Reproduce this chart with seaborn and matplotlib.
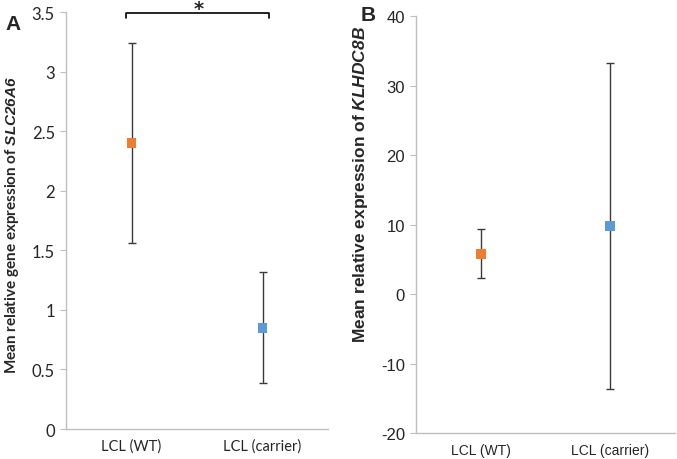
import pandas as pd
import numpy as np
import matplotlib.pyplot as plt
import seaborn as sns

groups = ['LCL (WT)', 'LCL (carrier)']
colors = ['#ED7D31', '#5B9BD5']

# panel A - SLC26A6
mean_a = [2.40, 0.85]
err_a = [0.84, 0.465]

# panel B - KLHDC8B
mean_b = [5.8, 9.8]
err_b = [3.5, 23.4]

sns.set_style('white')
plt.rcParams['mathtext.fontset'] = 'custom'
plt.rcParams['mathtext.bfit'] = 'Liberation Sans:italic:bold'

fig = plt.figure(figsize=(6.77, 4.6), dpi=100)
ax1 = fig.add_axes([0.0975, 0.0652, 0.387, 0.9065])
ax2 = fig.add_axes([0.6145, 0.0565, 0.3826, 0.9065])


def draw_panel(ax, means, errs, ylim, yticks, font, xsize):
    df = pd.DataFrame({'group': groups, 'mean': means, 'err': errs, 'pos': [0, 1]})
    ax.errorbar(df['pos'], df['mean'], yerr=df['err'], fmt='none',
                ecolor='#3a3a3a', elinewidth=1, capsize=3.2, capthick=1, zorder=2)
    sns.scatterplot(data=df, x='pos', y='mean', hue='group', palette=colors,
                    marker='s', s=48, edgecolor='none', legend=False, ax=ax, zorder=3)
    ax.set_xlim(-0.5, 1.5)
    ax.set_ylim(*ylim)
    ax.set_yticks(yticks)
    ax.set_yticklabels([('%g' % t) for t in yticks], fontsize=12, family=font)
    ax.set_xticks([0, 1])
    ax.set_xticklabels(groups, fontsize=xsize, family=font)
    ax.set_xticks([-0.5, 0.5, 1.5], minor=True)
    ax.tick_params(axis='x', which='major', length=0, pad=7)
    ax.tick_params(axis='x', which='minor', length=4, color='#bfbfbf', direction='out')
    ax.tick_params(axis='y', length=4, color='#bfbfbf', direction='out', left=True, pad=4)
    for s in ['top', 'right']:
        ax.spines[s].set_visible(False)
    for s in ['left', 'bottom']:
        ax.spines[s].set_color('#bfbfbf')
        ax.spines[s].set_linewidth(1)
    ax.set_xlabel('')
    ax.set_ylabel('')
    return ax


draw_panel(ax1, mean_a, err_a, (0, 3.5), [0, 0.5, 1, 1.5, 2, 2.5, 3, 3.5],
           'Lato', 10.5)
draw_panel(ax2, mean_b, err_b, (-20, 40), [-20, -10, 0, 10, 20, 30, 40],
           'Liberation Sans', 10)

# y labels with italic gene names
fig.text(0.017, 0.511, r'Mean relative gene expression of $\mathbfit{SLC26A6}$',
         rotation=90, ha='center', va='center', fontsize=11, fontweight='bold',
         family='Lato')
fig.text(0.533, 0.598, r'Mean relative expression of $\mathbfit{KLHDC8B}$',
         rotation=90, ha='center', va='center', fontsize=12.5, fontweight='bold',
         family='Liberation Sans')

# panel letters
fig.text(0.008, 0.935, 'A', fontsize=15, fontweight='bold', family='Liberation Sans')
fig.text(0.533, 0.955, 'B', fontsize=15, fontweight='bold', family='Liberation Sans')

# significance bracket
ax1.plot([-0.04, -0.04, 1.05, 1.05], [3.45, 3.49, 3.49, 3.45], color='black',
         lw=1.2, clip_on=False)
ax1.text(0.51, 3.53, '*', ha='center', va='center', fontsize=14, fontweight='bold')

fig.savefig('out.png', dpi=100)
